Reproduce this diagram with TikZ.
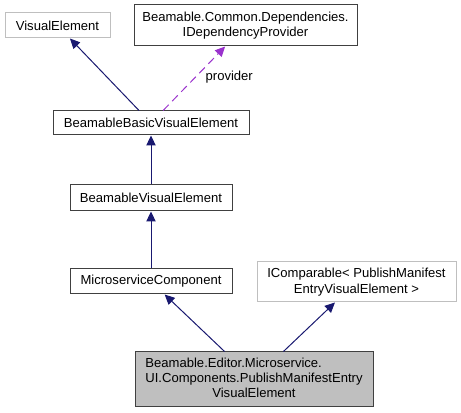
\documentclass[tikz,border=0pt]{standalone}
\usepackage{fontspec}
\setmainfont{Liberation Sans}
\usetikzlibrary{arrows.meta}
\definecolor{edgeblue}{HTML}{191970}
\definecolor{edgepurple}{HTML}{9A32CD}
\definecolor{boxline}{HTML}{404040}
\definecolor{boxgrey}{HTML}{BFBFBF}
\begin{document}
\begin{tikzpicture}[x=.75pt, y=-.75pt, font=\fontsize{9.8}{11.5}\selectfont,
        cls/.style={draw=boxline, line width=.75pt, inner sep=0pt, align=center},
        ext/.style={cls, draw=boxgrey},
        inh/.style={-{Triangle[length=7.5pt,width=7pt]}, edgeblue, line width=.75pt},
        use/.style={inh, edgepurple, dash pattern=on 6pt off 3.75pt}]
    \useasboundingbox (0,0) rectangle (461,413);
    \node[ext, minimum width=78.75pt, minimum height=18.75pt] (ve) at (57.5,25.5) {VisualElement};
    \node[cls, minimum width=167.25pt, minimum height=30.75pt] (dep) at (245.5,25.5) {Beamable.Common.Dependencies.\\IDependencyProvider};
    \node[cls, minimum width=147pt, minimum height=18pt] (bbve) at (151,123) {BeamableBasicVisualElement};
    \node[cls, minimum width=121.5pt, minimum height=19.5pt] (bve) at (151,198) {BeamableVisualElement};
    \node[cls, minimum width=121.5pt, minimum height=18.75pt] (mc) at (151,281.5) {MicroserviceComponent};
    \node[ext, minimum width=149.25pt, minimum height=30pt] (icomp) at (356.5,282) {IComparable\textless{} PublishManifest\\EntryVisualElement \textgreater{}};
    \node[cls, fill=boxgrey, minimum width=178.5pt, minimum height=41.25pt] (entry) at (254,379.5)
        {\begin{tabular}{@{}l@{}}Beamable.Editor.Microservice.\\UI.Components.PublishManifestEntry\\\multicolumn{1}{@{}c@{}}{VisualElement}\end{tabular}};
    % inheritance
    \draw[inh] (bbve) -- (ve);
    \draw[use] (bbve) -- (dep) node[right=4pt, pos=.52, text=black] {provider};
    \draw[inh] (bve) -- (bbve);
    \draw[inh] (mc) -- (bve);
    \draw[inh] (entry) -- (mc);
    \draw[inh] (entry) -- (icomp);
\end{tikzpicture}
\end{document}
